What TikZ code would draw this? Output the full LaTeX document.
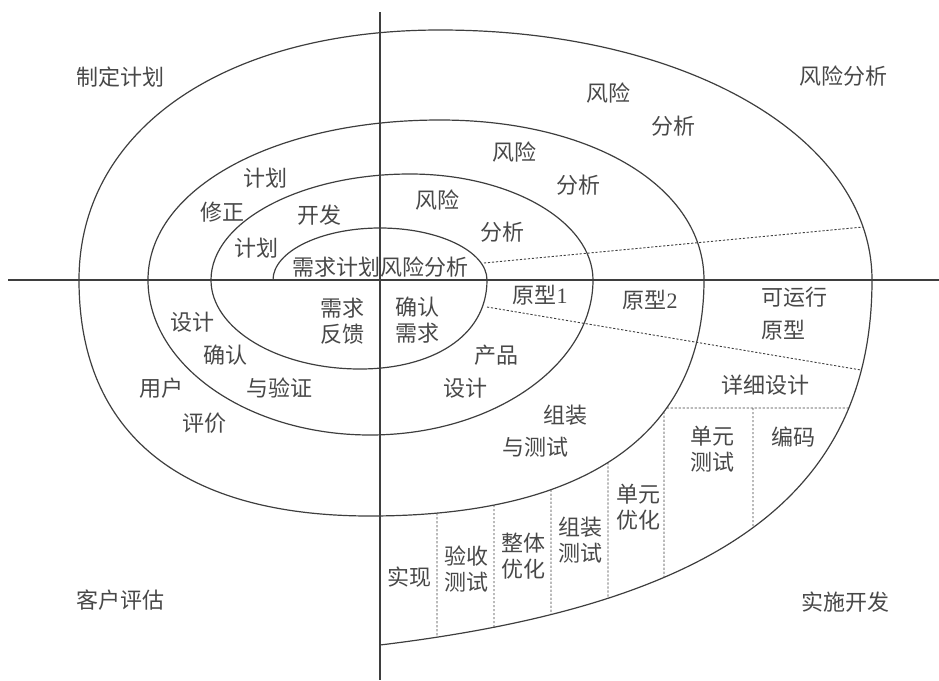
\documentclass[tikz,border=0pt]{standalone}
\usepackage{fontspec}
\setmainfont{Noto Sans CJK SC}
\newfontfamily\latinf{Liberation Serif}
\usetikzlibrary{intersections}
\definecolor{ink}{RGB}{62,62,62}
\definecolor{txt}{RGB}{72,72,72}
\begin{document}
\begin{tikzpicture}[x=1pt,y=-1pt,
  curve/.style={draw=ink,line width=1.2pt},
  dline/.style={draw=ink,line width=0.9pt,dash pattern=on 2.2pt off 1.8pt},
  lab/.style={text=txt,inner sep=0pt,align=center,font=\fontsize{22}{26}\selectfont}]
\useasboundingbox (0,0) rectangle (939,680);
% axes
\coordinate (hl) at (8,280); \coordinate (hr) at (939,280);
\coordinate (vt) at (380,12); \coordinate (vb) at (380,680);
\draw[curve] (hl) -- (hr);
\draw[curve] (vt) -- (vb);
% spiral
\draw[curve] (273,280)
  .. controls (273,251.4) and (321.2,228) .. (380,228)
  .. controls (438.9,228) and (487,251.4) .. (487,280)
  .. controls (487,337.9) and (429.9,369) .. (360,369)
  .. controls (278,369) and (211,329) .. (211,280)
  .. controls (211,221.7) and (300.6,174) .. (410,174)
  .. controls (510.7,174) and (593,221.7) .. (593,280)
  .. controls (593,365.3) and (492.7,435) .. (370,435)
  .. controls (247.9,435) and (148,365.3) .. (148,280)
  .. controls (148,188.8) and (273.6,120) .. (440,120)
  .. controls (592.5,120) and (704,187.2) .. (704,280)
  .. controls (704,433.4) and (587.1,516) .. (370,516)
  .. controls (180.9,516) and (79,433.4) .. (79,280)
  .. controls (79,130) and (223.4,30) .. (440,30)
  .. controls (686.2,30) and (872,137.5) .. (872,280)
  .. controls (872,500) and (710,605) .. (380,645);
% helper paths
\path[name path=b3] (704,280) .. controls (704,433.4) and (587.1,516) .. (370,516);
\path[name path=b4] (872,280) .. controls (872,500) and (710,605) .. (380,645);
\path[name path=hh] (600,408) -- (900,408);
\path[name intersections={of=b3 and hh,by=h1}];
\path[name intersections={of=b4 and hh,by=h2}];
% dashed lines
\coordinate (d1s) at (484,263); \coordinate (d1e) at (863,227);
\coordinate (d2s) at (487,307); \coordinate (d2e) at (861,370);
\draw[dline] (d1s) -- (d1e);
\draw[dline] (d2s) -- (d2e);
\draw[dline] (h1) -- (h2);
\path[name path=vvf] (753,300) -- (753,700);
\path[name intersections={of=b4 and vvf,by=uf}];
\coordinate (tf) at (753,408);
\draw[dline] (tf) -- (uf);
\foreach \xx/\n in {437/a,494/b,551/c,608/d,664/e}{
  \path[name path=vv\n] (\xx,250) -- (\xx,700);
  \path[name intersections={of=b3 and vv\n,by=t\n}];
  \path[name intersections={of=b4 and vv\n,by=u\n}];
  \draw[dline] (t\n) -- (u\n);
}
% labels
\node[lab] (zdjh) at (120,77) {制定计划};
\node[lab] (fxfx) at (843,76) {风险分析};
\node[lab] (khpg) at (120,600) {客户评估};
\node[lab] (sskf) at (845,602) {实施开发};
\node[lab] (fx4a) at (608,93) {风险};
\node[lab] (fx4b) at (673,126) {分析};
\node[lab] (fx3a) at (514,152) {风险};
\node[lab] (fx3b) at (578,185) {分析};
\node[lab] (fx2a) at (437,200) {风险};
\node[lab] (fx2b) at (502,232) {分析};
\node[lab] (jh2) at (265,178) {计划};
\node[lab] (xz) at (222,212) {修正};
\node[lab] (kf) at (319,215) {开发};
\node[lab] (jh1) at (256,248) {计划};
\node[lab] (ctr) at (380,267) {需求计划风险分析};
\node[lab] (xqfk) at (342,321) {需求\\反馈};
\node[lab] (qrxq) at (417,320) {确认\\需求};
\node[lab] (yx1) at (540,295) {原型{\latinf 1}};
\node[lab] (yx2) at (650,300) {原型{\latinf 2}};
\node[lab] (kyx) at (794,297) {可运行};
\node[lab] (yx3) at (783,330) {原型};
\node[lab] (cp) at (496,355) {产品};
\node[lab] (sj1) at (465,388) {设计};
\node[lab] (xxsj) at (765,385) {详细设计};
\node[lab] (zz) at (565,415) {组装};
\node[lab] (yucs) at (535,447) {与测试};
\node[lab] (dycs) at (712,449) {单元\\测试};
\node[lab] (bm) at (793,437) {编码};
\node[lab] (dyyh) at (638,507) {单元\\优化};
\node[lab] (zzcs) at (580,540) {组装\\测试};
\node[lab] (ztyh) at (523,556) {整体\\优化};
\node[lab] (yscs) at (466,569) {验收\\测试};
\node[lab] (sx) at (409,577) {实现};
\node[lab] (sj2) at (192,322) {设计};
\node[lab] (qr) at (225,355) {确认};
\node[lab] (yyz) at (279,388) {与验证};
\node[lab] (yh) at (161,388) {用户};
\node[lab] (pj) at (204,423) {评价};
\end{tikzpicture}
\end{document}
